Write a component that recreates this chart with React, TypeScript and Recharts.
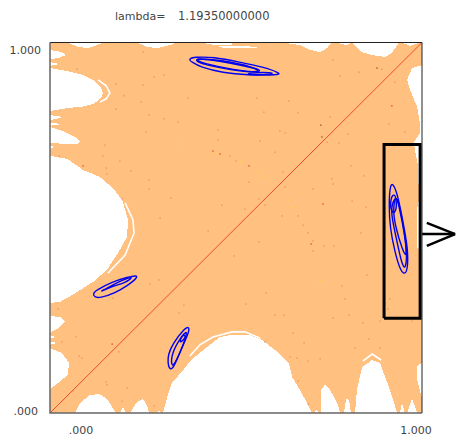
import React from 'react';
import { ScatterChart, Scatter, XAxis, YAxis, ReferenceLine } from 'recharts';

type Pair = [number, number];

const AXIS_TICKS = [0, 1];
const FONT = '"DejaVu Sans", Verdana, sans-serif';
const ORANGE = '#ffc080';

// whole unit square, the map's basin is orange and the escape regions are cut out in white
const basin: Pair[] = [[0, 0], [1, 0], [1, 1], [0, 1]];
const frameDark: Pair[] = [[1, 0], [1, 1], [0, 1]];
const frameGray: Pair[] = [[0, 1], [0, 0], [1, 0]];
const diagonal: Pair[] = [[0, 0], [1, 1]];
const zoomBox: Pair[] = [[0.898, 0.256], [0.995, 0.256], [0.995, 0.725], [0.898, 0.725], [0.898, 0.256]];
const arrowShaft: Pair[] = [[0.997, 0.483], [1.089, 0.483]];
const arrowUpper: Pair[] = [[1.013, 0.513], [1.089, 0.483]];
const arrowLower: Pair[] = [[1.013, 0.451], [1.089, 0.483]];

// left edge
const bayA1: Pair[] = [[0, 0.98], [0.032, 0.974], [0.043, 0.966], [0.022, 0.958], [0, 0.955]];
const bayA2: Pair[] = [[0, 0.947], [0.027, 0.942], [0, 0.937]];
const bayB: Pair[] = [[0, 0.931], [0.046, 0.923], [0.089, 0.912], [0.118, 0.897], [0.137, 0.878], [0.142, 0.864], [0.137, 0.85], [0.118, 0.835], [0.089, 0.827], [0.046, 0.823], [0, 0.815]];
const bayC1: Pair[] = [[0, 0.804], [0.035, 0.799], [0.019, 0.794], [0, 0.791]];
const bayC2: Pair[] = [[0, 0.783], [0.032, 0.78], [0, 0.775]];
const bayD: Pair[] = [[0, 0.772], [0.035, 0.761], [0.067, 0.745], [0.081, 0.734], [0.075, 0.726], [0.046, 0.726], [0, 0.729]];
const bayD2: Pair[] = [[0, 0.721], [0.013, 0.718], [0, 0.713]];
const bayE: Pair[] = [[0, 0.694], [0.046, 0.686], [0.089, 0.656], [0.134, 0.637], [0.169, 0.607], [0.194, 0.575], [0.21, 0.521], [0.207, 0.475], [0.183, 0.432], [0.153, 0.386], [0.116, 0.354], [0.089, 0.337], [0.059, 0.318], [0.027, 0.3], [0, 0.297]];
const bayF: Pair[] = [[0, 0.262], [0.027, 0.259], [0.04, 0.246], [0.022, 0.229], [0, 0.216]];
const bayF2: Pair[] = [[0, 0.211], [0.013, 0.205], [0, 0.2]];
const bayF3: Pair[] = [[0, 0.194], [0.019, 0.189], [0, 0.184]];
const bayG: Pair[] = [[0, 0.175], [0.032, 0.162], [0.051, 0.135], [0.048, 0.103], [0.022, 0.081], [0, 0.065]];

// bottom edge
const bayH: Pair[] = [[0.067, 0], [0.081, 0.027], [0.108, 0.049], [0.134, 0.051], [0.156, 0.035], [0.175, 0.003], [0.18, 0]];
const bayI: Pair[] = [[0.188, 0], [0.196, 0.016], [0.204, 0]];
const bayJ: Pair[] = [[0.215, 0], [0.234, 0.03], [0.25, 0.038], [0.263, 0.016], [0.266, 0]];
const bayK: Pair[] = [[0.288, 0], [0.293, 0.008], [0.301, 0]];
const bayL: Pair[] = [[0.304, 0], [0.315, 0.043], [0.328, 0.081], [0.358, 0.116], [0.379, 0.143], [0.422, 0.178], [0.457, 0.205], [0.489, 0.211], [0.535, 0.211], [0.57, 0.197], [0.605, 0.17], [0.642, 0.135], [0.651, 0.097], [0.672, 0.062], [0.691, 0.027], [0.704, 0]];
const bayM: Pair[] = [[0.712, 0], [0.715, 0.011], [0.723, 0]];
const bayN: Pair[] = [[0.728, 0], [0.728, 0.062], [0.739, 0.076], [0.753, 0.062], [0.772, 0.027], [0.78, 0]];
const bayO: Pair[] = [[0.79, 0], [0.796, 0.038], [0.804, 0.035], [0.809, 0]];
const bayP: Pair[] = [[0.82, 0], [0.825, 0.062], [0.839, 0.124], [0.866, 0.143], [0.887, 0.135], [0.911, 0.07], [0.925, 0.027], [0.933, 0]];
const bayQ: Pair[] = [[0.941, 0], [0.946, 0.027], [0.954, 0]];
const bayR: Pair[] = [[0.96, 0], [0.973, 0.04], [0.987, 0]];

// right edge
const bayS: Pair[] = [[1, 0.939], [0.973, 0.931], [0.96, 0.899], [0.968, 0.872], [0.987, 0.826], [0.995, 0.777], [0.995, 0.756], [0.978, 0.731], [0.981, 0.71], [0.989, 0.669], [0.992, 0.575], [0.987, 0.553], [0.987, 0.448], [0.992, 0.44], [1, 0.44]];
const bayT: Pair[] = [[1, 0.135], [0.987, 0.127], [0.987, 0.089], [0.995, 0.057], [1, 0.043]];

// top edge
const topA: Pair[] = [[0.048, 1], [0.075, 0.988], [0.102, 0.985], [0.126, 0.993], [0.142, 1]];
const topB: Pair[] = [[0.234, 1], [0.261, 0.988], [0.288, 0.985], [0.323, 0.993], [0.341, 1]];
const topC: Pair[] = [[0.403, 1], [0.489, 1], [0.489, 0.993], [0.444, 0.993]];
const topStrip: Pair[] = [[0.449, 0.991], [0.511, 0.991], [0.556, 0.988], [0.556, 0.984], [0.47, 0.984]];
const topD: Pair[] = [[0.624, 1], [0.672, 0.993], [0.699, 0.98], [0.726, 0.974], [0.745, 0.985], [0.758, 1]];
const topE: Pair[] = [[0.766, 1], [0.798, 0.993], [0.812, 1]];
const topF: Pair[] = [[0.812, 1], [0.839, 0.974], [0.866, 0.966], [0.901, 0.961], [0.919, 0.972], [0.938, 1]];
const topG: Pair[] = [[0.946, 1], [0.968, 0.991], [0.995, 1]];

const whiteBays = [
  bayA1, bayA2, bayB, bayC1, bayC2, bayD, bayD2, bayE, bayF, bayF2, bayF3, bayG,
  bayH, bayI, bayJ, bayK, bayL, bayM, bayN, bayO, bayP, bayQ, bayR, bayS, bayT,
  topA, topB, topC, topStrip, topD, topE, topF, topG,
];

// thin white crescents that follow the big bays
const sliverB: Pair[] = [[0.129, 0.899], [0.151, 0.883], [0.161, 0.864], [0.151, 0.848], [0.134, 0.839]];
const sliverE: Pair[] = [[0.202, 0.567], [0.223, 0.521], [0.226, 0.486], [0.202, 0.426], [0.156, 0.378]];
const sliverL: Pair[] = [[0.376, 0.154], [0.403, 0.184], [0.438, 0.205], [0.489, 0.219], [0.524, 0.219], [0.565, 0.202]];
const sliverP: Pair[] = [[0.841, 0.14], [0.866, 0.159], [0.89, 0.143]];
const whiteSlivers = [sliverB, sliverE, sliverL, sliverP];

// blue attractor loops
const topOuter: Pair[] = [[0.371, 0.955], [0.39, 0.961], [0.438, 0.961], [0.511, 0.947], [0.573, 0.934], [0.618, 0.918], [0.618, 0.912], [0.53, 0.912], [0.465, 0.918], [0.403, 0.934], [0.382, 0.947]];
const topInner: Pair[] = [[0.39, 0.958], [0.438, 0.953], [0.511, 0.939], [0.573, 0.926], [0.556, 0.918], [0.484, 0.926], [0.422, 0.939], [0.395, 0.947]];
const topRidge: Pair[] = [[0.39, 0.958], [0.484, 0.95], [0.57, 0.926], [0.551, 0.918], [0.47, 0.931], [0.398, 0.947]];
const topFlat: Pair[] = [[0.53, 0.918], [0.6, 0.92], [0.6, 0.914], [0.53, 0.912]];
const rightOuter: Pair[] = [[0.914, 0.615], [0.922, 0.621], [0.935, 0.588], [0.949, 0.516], [0.962, 0.445], [0.962, 0.391], [0.954, 0.372], [0.941, 0.386], [0.927, 0.435], [0.914, 0.499], [0.911, 0.561]];
const rightInner: Pair[] = [[0.933, 0.594], [0.946, 0.526], [0.96, 0.445], [0.957, 0.386], [0.946, 0.399], [0.933, 0.462], [0.919, 0.526], [0.917, 0.561]];
const rightThird: Pair[] = [[0.93, 0.588], [0.922, 0.553], [0.927, 0.507], [0.949, 0.435], [0.96, 0.418], [0.954, 0.48], [0.938, 0.561]];
const rightBlob: Pair[] = [[0.914, 0.583], [0.93, 0.596], [0.933, 0.542], [0.917, 0.537]];
const lowLeftOuter: Pair[] = [[0.116, 0.324], [0.126, 0.332], [0.167, 0.354], [0.21, 0.367], [0.234, 0.372], [0.234, 0.364], [0.21, 0.345], [0.175, 0.324], [0.134, 0.31], [0.118, 0.313]];
const lowLeftInner: Pair[] = [[0.129, 0.324], [0.169, 0.343], [0.202, 0.351], [0.228, 0.37], [0.194, 0.359], [0.153, 0.337]];
const lowMidOuter: Pair[] = [[0.317, 0.135], [0.317, 0.157], [0.331, 0.189], [0.358, 0.224], [0.374, 0.235], [0.374, 0.219], [0.358, 0.184], [0.341, 0.143], [0.328, 0.116], [0.32, 0.121]];
const lowMidInner: Pair[] = [[0.328, 0.124], [0.325, 0.151], [0.341, 0.189], [0.371, 0.229], [0.363, 0.197], [0.349, 0.162], [0.336, 0.135]];
const lowMidThird: Pair[] = [[0.344, 0.184], [0.368, 0.205], [0.358, 0.216]];
const blueLoops = [
  topOuter, topInner, topRidge, topFlat, rightOuter, rightInner, rightThird, rightBlob,
  lowLeftOuter, lowLeftInner, lowMidOuter, lowMidInner, lowMidThird,
];

// isolated points scattered over the basin
const specksSalmon: Pair[] = [
  [0.25, 0.974], [0.073, 0.928], [0.28, 0.907], [0.306, 0.912], [0.177, 0.888], [0.25, 0.885], [0.199, 0.856], [0.371, 0.85],
  [0.245, 0.839], [0.177, 0.82], [0.266, 0.804], [0.306, 0.794], [0.344, 0.785], [0.258, 0.758], [0.452, 0.764], [0.452, 0.737],
  [0.148, 0.723], [0.484, 0.694], [0.024, 0.694], [0.142, 0.694], [0.188, 0.68], [0.151, 0.661], [0.218, 0.653], [0.153, 0.645],
  [0.266, 0.629], [0.266, 0.605], [0.325, 0.58], [0.194, 0.578], [0.462, 0.561], [0.296, 0.526], [0.761, 0.953], [0.831, 0.92],
  [0.78, 0.91], [0.892, 0.928], [0.927, 0.893], [0.556, 0.85], [0.642, 0.842], [0.575, 0.812], [0.667, 0.81], [0.753, 0.799],
  [0.911, 0.78], [0.954, 0.758], [0.618, 0.761], [0.632, 0.756], [0.801, 0.753], [0.565, 0.734], [0.745, 0.731], [0.777, 0.729],
  [0.605, 0.704], [0.5, 0.68], [0.809, 0.667], [0.626, 0.65], [0.844, 0.64], [0.535, 0.623], [0.758, 0.632], [0.761, 0.618],
  [0.632, 0.61], [0.707, 0.605], [0.562, 0.578], [0.812, 0.572], [0.578, 0.561], [0.849, 0.556], [0.524, 0.55], [0.624, 0.532],
  [0.667, 0.532], [0.425, 0.491], [0.293, 0.359], [0.269, 0.348], [0.169, 0.31], [0.022, 0.281], [0.36, 0.291], [0.347, 0.27],
  [0.07, 0.205], [0.032, 0.192], [0.185, 0.165], [0.078, 0.154], [0.086, 0.148], [0.151, 0.084], [0.153, 0.076], [0.207, 0.067],
  [0.062, 0.059], [0.194, 0.032], [0.28, 0.019], [0.68, 0.507], [0.694, 0.486], [0.562, 0.462], [0.707, 0.464], [0.737, 0.451],
  [0.763, 0.451], [0.707, 0.437], [0.495, 0.424], [0.836, 0.486], [0.852, 0.372], [0.785, 0.343], [0.581, 0.324], [0.793, 0.308],
  [0.527, 0.294], [0.914, 0.308], [0.605, 0.264], [0.629, 0.264], [0.761, 0.256], [0.804, 0.264], [0.909, 0.281], [0.841, 0.243],
  [0.973, 0.248], [0.887, 0.248], [0.653, 0.216], [0.857, 0.2], [0.683, 0.189], [0.578, 0.192], [0.82, 0.175], [0.887, 0.175],
  [0.645, 0.151], [0.664, 0.148], [0.726, 0.146], [0.694, 0.14], [0.667, 0.086], [0.694, 0.024],
];
const specksRed: Pair[] = [[0.438, 0.707], [0.457, 0.699], [0.089, 0.667], [0.919, 0.829], [0.535, 0.667], [0.734, 0.564], [0.167, 0.186], [0.702, 0.456]];
const specksDark: Pair[] = [[0.879, 0.931], [0.728, 0.777], [0.731, 0.745]];
const specksYellow: Pair[] = [[0.358, 0.726], [0.449, 0.702], [0.513, 0.677], [0.559, 0.65], [0.575, 0.637], [0.64, 0.575], [0.651, 0.556], [0.726, 0.356]];

const toPoints = (pairs: Pair[]) => pairs.map(([x, y]) => ({ x, y }));

const NoDot = () => <g />;
const Speck = ({ cx, cy, fill }: any) => (
  <rect x={cx - 0.6} y={cy - 0.6} width={1.2} height={1.2} fill={fill} />
);

// tick labels in the original sit away from the tick positions
const XTick = ({ x, y, payload }: any) => (
  <text x={payload.value === 0 ? x + 31 : x - 6} y={y + 13} textAnchor="middle" fontSize={11} fontFamily={FONT} fill="#444">
    {payload.value === 0 ? '.000' : '1.000'}
  </text>
);
const YTick = ({ x, y, payload }: any) => (
  <text x={payload.value === 0 ? 38 : 41} y={payload.value === 0 ? y + 2 : y + 11} textAnchor="end" fontSize={11} fontFamily={FONT} fill="#444">
    {payload.value === 0 ? '.000' : '1.000'}
  </text>
);

const polyLine = (key: string, pairs: Pair[], stroke: string, width: number) => (
  <Scatter
    key={key}
    data={toPoints(pairs)}
    shape={NoDot}
    isAnimationActive={false}
    line={{ stroke, strokeWidth: width, fill: 'none' }}
  />
);

export default function App() {
  return (
    <div style={{ position: 'absolute', left: 0, top: 0, width: 464, height: 441, background: '#fff' }}>
      <ScatterChart width={464} height={441} margin={{ top: 42.5, right: 42, bottom: 0, left: 0 }}>
        <XAxis type="number" dataKey="x" domain={[0, 1]} ticks={AXIS_TICKS} height={28} axisLine={false} tickLine={false} tick={<XTick />} />
        <YAxis type="number" dataKey="y" domain={[0, 1]} ticks={AXIS_TICKS} width={50} axisLine={false} tickLine={false} tick={<YTick />} />

        <Scatter
          data={toPoints(basin)}
          shape={NoDot}
          isAnimationActive={false}
          line={{ stroke: 'none', fill: ORANGE }}
        />
        {whiteBays.map((bay, i) => (
          <Scatter
            key={`bay-${i}`}
            data={toPoints(bay)}
            shape={NoDot}
            isAnimationActive={false}
            line={{ stroke: 'none', fill: '#fff', shapeRendering: 'crispEdges' }}
          />
        ))}
        {whiteSlivers.map((s, i) => polyLine(`sliver-${i}`, s, '#fff', 1.6))}

        <Scatter data={toPoints(specksSalmon)} fill="#ea8060" shape={Speck} isAnimationActive={false} />
        <Scatter data={toPoints(specksRed)} fill="#e02818" shape={Speck} isAnimationActive={false} />
        <Scatter data={toPoints(specksDark)} fill="#604020" shape={Speck} isAnimationActive={false} />
        <Scatter data={toPoints(specksYellow)} fill="#ffe040" shape={Speck} isAnimationActive={false} />

        {polyLine('diagonal', diagonal, '#f04a30', 1)}

        {blueLoops.map((loop, i) => (
          <Scatter
            key={`loop-${i}`}
            data={toPoints(loop)}
            shape={NoDot}
            isAnimationActive={false}
            lineJointType="basisClosed"
            line={{ stroke: '#0000f0', strokeWidth: 1.4, fill: 'none' }}
          />
        ))}

        {polyLine('box', zoomBox, '#000', 3)}
        {polyLine('frame-dark', frameDark, '#222', 1)}
        {polyLine('frame-gray', frameGray, '#666', 1.5)}

        <ReferenceLine segment={toPoints(arrowShaft)} stroke="#000" strokeWidth={2.5} ifOverflow="visible" />
        <ReferenceLine segment={toPoints(arrowUpper)} stroke="#000" strokeWidth={2.5} ifOverflow="visible" />
        <ReferenceLine segment={toPoints(arrowLower)} stroke="#000" strokeWidth={2.5} ifOverflow="visible" />

        <text x={115} y={20} fontSize={11} fontFamily={FONT} fill="#444">lambda=</text>
        <text x={178} y={20} fontSize={11.5} fontFamily={FONT} fill="#444">1.19350000000</text>
      </ScatterChart>
    </div>
  );
}
